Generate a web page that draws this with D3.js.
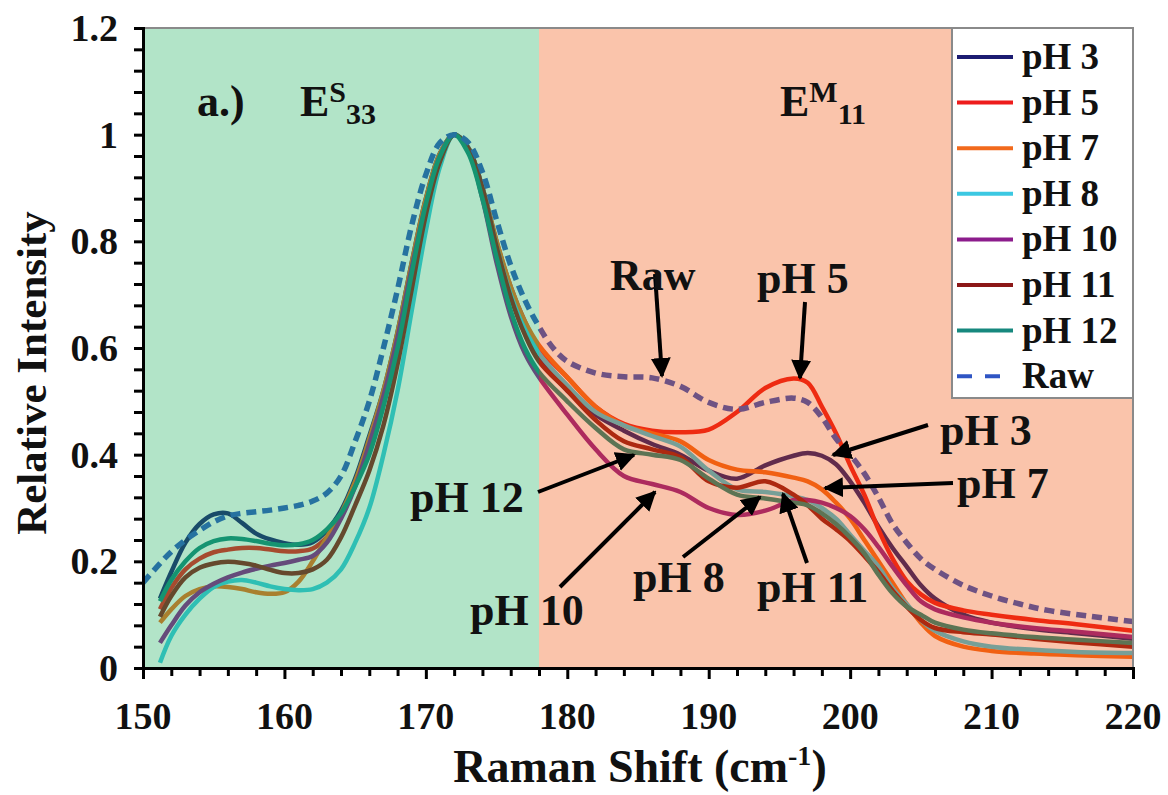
<!DOCTYPE html>
<html><head><meta charset="utf-8">
<script src="https://cdn.jsdelivr.net/npm/d3@7"></script>
<style>
html,body{margin:0;padding:0;background:#fff;}
svg text{font-family:"Liberation Serif","Times New Roman",serif;font-weight:bold;fill:#111;}
</style></head>
<body>
<svg id="c" width="1168" height="795"></svg>
<script>
// ---------- data ----------
const shift = [151.2,152,153,154,155,156,157,158,159,160,161,162,163,164,165,166,167,168,169,170,171,172,173,174,175,176,177,178,
  180,182,184,186,188,190,192,194,196,197,198,199,200,201,202,203,204,205,206,208,210,213,216,220];
const pH3 = [0.13,0.18,0.235,0.27,0.288,0.29,0.272,0.252,0.241,0.234,0.231,0.236,0.258,0.295,0.355,0.435,0.52,0.63,0.76,0.88,0.965,1.0,0.975,0.895,0.79,0.70,0.635,0.585,
  0.52,0.475,0.445,0.42,0.40,0.37,0.355,0.38,0.398,0.403,0.398,0.382,0.35,0.31,0.265,0.225,0.19,0.155,0.13,0.10,0.085,0.073,0.065,0.055];
const pH5 = [0.11,0.15,0.185,0.205,0.217,0.222,0.225,0.225,0.222,0.219,0.219,0.224,0.245,0.285,0.345,0.425,0.515,0.625,0.755,0.875,0.96,1.0,0.975,0.9,0.8,0.715,0.65,0.6,
  0.545,0.49,0.458,0.445,0.442,0.447,0.48,0.525,0.543,0.535,0.49,0.44,0.38,0.325,0.26,0.205,0.163,0.138,0.122,0.108,0.1,0.09,0.082,0.07];
const pH7 = [0.085,0.11,0.135,0.148,0.153,0.152,0.148,0.142,0.139,0.142,0.162,0.2,0.245,0.29,0.35,0.43,0.52,0.63,0.76,0.88,0.965,1.0,0.975,0.9,0.8,0.715,0.65,0.605,
  0.545,0.49,0.455,0.44,0.425,0.39,0.372,0.367,0.357,0.35,0.335,0.31,0.28,0.24,0.2,0.16,0.12,0.085,0.06,0.04,0.032,0.027,0.024,0.021];
const pH8 = [0.01,0.06,0.1,0.13,0.152,0.162,0.165,0.16,0.153,0.148,0.146,0.148,0.16,0.185,0.235,0.3,0.4,0.52,0.67,0.82,0.94,1.0,0.975,0.9,0.79,0.7,0.635,0.59,
  0.53,0.48,0.455,0.435,0.415,0.37,0.335,0.33,0.322,0.315,0.3,0.28,0.25,0.22,0.19,0.15,0.12,0.09,0.07,0.05,0.04,0.034,0.03,0.028];
const pH10 = [0.047,0.08,0.117,0.142,0.158,0.17,0.179,0.186,0.192,0.197,0.203,0.21,0.235,0.28,0.34,0.42,0.51,0.62,0.75,0.87,0.96,1.0,0.97,0.88,0.76,0.66,0.59,0.545,
  0.475,0.41,0.36,0.345,0.33,0.3,0.287,0.295,0.315,0.315,0.31,0.3,0.285,0.26,0.227,0.19,0.155,0.125,0.11,0.095,0.085,0.075,0.068,0.058];
const pH11 = [0.096,0.135,0.17,0.188,0.196,0.199,0.197,0.192,0.184,0.178,0.178,0.185,0.203,0.245,0.305,0.37,0.455,0.57,0.71,0.85,0.95,1.0,0.975,0.9,0.79,0.695,0.625,0.575,
  0.52,0.465,0.425,0.41,0.395,0.35,0.338,0.35,0.325,0.305,0.28,0.26,0.238,0.21,0.18,0.145,0.115,0.09,0.075,0.067,0.063,0.055,0.048,0.04];
const pH12 = [0.125,0.165,0.2,0.225,0.238,0.243,0.242,0.238,0.233,0.23,0.232,0.24,0.26,0.29,0.34,0.4,0.49,0.6,0.74,0.87,0.96,1.0,0.965,0.88,0.77,0.67,0.6,0.555,
  0.5,0.45,0.41,0.4,0.39,0.355,0.325,0.318,0.31,0.305,0.29,0.27,0.245,0.215,0.175,0.14,0.115,0.1,0.085,0.072,0.065,0.058,0.053,0.047];
const rawShift = [150,151,152,153,154,155,156,157,158,159,160,161,162,163,164,165,166,167,168,169,170,171,172,173,174,175,176,177,178,179,
  180,182,184,186,188,190,192,194,196,197,198,199,200,201,202,203,204,205,206,208,210,212,214,217,220];
const raw = [0.16,0.19,0.218,0.24,0.258,0.274,0.285,0.29,0.293,0.296,0.3,0.305,0.313,0.328,0.36,0.425,0.5,0.6,0.71,0.83,0.925,0.985,1.0,0.985,0.93,0.84,0.755,0.69,0.64,0.6,
  0.575,0.553,0.546,0.544,0.528,0.498,0.485,0.498,0.506,0.498,0.47,0.43,0.4,0.365,0.32,0.27,0.235,0.205,0.185,0.155,0.135,0.12,0.108,0.097,0.087];

const seriesNames = ["pH 3","pH 5","pH 7","pH 8","pH 10","pH 11","pH 12","Raw"];
const seriesColors = ["#1c1c72","#ee1c1c","#f26a1c","#3cc8e2","#8c1c8c","#8c1818","#16887e","#2f55c4"];
const xTicks = [150,160,170,180,190,200,210,220];
const yTicks = [0,0.2,0.4,0.6,0.8,1,1.2];
const regions = [{from:150,to:178,color:"#16ad58"},{from:178,to:220,color:"#f04c00"}];

// ---------- layout ----------
const svg = d3.select("#c");
const L=143, R=1133, T=28, B=668;
const x = d3.scaleLinear().domain([150,220]).range([L,R]);
const y = d3.scaleLinear().domain([0,1.2]).range([B,T]);

const allY = [pH3,pH5,pH7,pH8,pH10,pH11,pH12];
const series = allY.map((vals,i)=>({name:seriesNames[i],color:seriesColors[i],pts:shift.map((s,j)=>[s,vals[j]]),dash:null}));
series.push({name:"Raw",color:seriesColors[7],pts:rawShift.map((s,j)=>[s,raw[j]]),dash:"10,6"});

svg.append("defs").append("clipPath").attr("id","clip")
  .append("rect").attr("x",L).attr("y",T).attr("width",R-L).attr("height",B-T);

const line = d3.line().x(d=>x(d[0])).y(d=>y(d[1])).curve(d3.curveCatmullRom.alpha(0.5));
const g = svg.append("g").attr("clip-path","url(#clip)");
g.selectAll("path.s").data(series).join("path")
  .attr("class","s").attr("d",d=>line(d.pts)).attr("fill","none")
  .attr("stroke",d=>d.color).attr("stroke-width",d=>d.dash?5.5:4.5)
  .attr("stroke-dasharray",d=>d.dash).attr("stroke-linejoin","round");

// translucent shaded regions (drawn over the lines)
svg.selectAll("rect.reg").data(regions).join("rect").attr("class","reg")
  .attr("x",d=>x(d.from)).attr("y",T).attr("width",d=>x(d.to)-x(d.from)).attr("height",B-T)
  .attr("fill",d=>d.color).attr("fill-opacity",0.33);

// frame top/right
svg.append("path").attr("d",`M${L},${T}H${R}V${B}`).attr("fill","none").attr("stroke","#8a8a8a").attr("stroke-width",2);

// axes
const xAx = d3.axisBottom(x).tickValues(d3.range(150,221,2)).tickSize(9).tickFormat("");
const gx = svg.append("g").attr("transform",`translate(0,${B})`).call(xAx);
const yAx = d3.axisLeft(y).tickValues(d3.range(0,1.2001,0.04)).tickSize(9).tickFormat("");
const gy = svg.append("g").attr("transform",`translate(${L},0)`).call(yAx);
[gx,gy].forEach(a=>{a.select(".domain").attr("stroke","#000").attr("stroke-width",3);
  a.selectAll(".tick line").attr("stroke","#000").attr("stroke-width",3);});
gx.selectAll(".tick line").attr("y2",(d)=> (d%10===0)?11:8);

svg.selectAll("text.xt").data(xTicks).join("text").attr("class","xt")
  .attr("x",d=>x(d)).attr("y",729).attr("text-anchor","middle").attr("font-size",38).text(d=>d);
svg.selectAll("text.yt").data(yTicks).join("text").attr("class","yt")
  .attr("x",118).attr("y",d=>y(d)+13).attr("text-anchor","end").attr("font-size",38).text(d=>d);

// axis titles
const xt = svg.append("text").attr("x",640).attr("y",782).attr("text-anchor","middle").attr("font-size",46);
xt.append("tspan").text("Raman Shift (cm");
xt.append("tspan").attr("font-size",28).attr("dy",-17).text("-1");
xt.append("tspan").attr("dy",17).text(")");
svg.append("text").attr("transform","translate(46,373) rotate(-90)").attr("text-anchor","middle")
  .attr("font-size",43).text("Relative Intensity");

// region labels
svg.append("text").attr("x",197).attr("y",116).attr("font-size",44).text("a.)");
const e1 = svg.append("text").attr("x",300).attr("y",116).attr("font-size",44);
e1.append("tspan").text("E");
e1.append("tspan").attr("font-size",30).attr("dy",-14).text("S");
e1.append("tspan").attr("font-size",30).attr("dy",22).text("33");
const e2 = svg.append("text").attr("x",780).attr("y",116).attr("font-size",44);
e2.append("tspan").text("E");
e2.append("tspan").attr("font-size",30).attr("dy",-14).text("M");
e2.append("tspan").attr("font-size",30).attr("dy",22).text("11");

// annotations with arrows
const annotations = [
  {t:"Raw",tx:610,ty:290,x1:655,y1:274,x2:662,y2:376},
  {t:"pH 5",tx:757,ty:293,x1:805,y1:302,x2:800,y2:378},
  {t:"pH 3",tx:940,ty:445,x1:928,y1:425,x2:833,y2:455},
  {t:"pH 7",tx:957,ty:498,x1:953,y1:483,x2:825,y2:488},
  {t:"pH 12",tx:410,ty:512,x1:538,y1:492,x2:634,y2:455},
  {t:"pH 10",tx:470,ty:625,x1:560,y1:587,x2:655,y2:492},
  {t:"pH 8",tx:633,ty:592,x1:683,y1:557,x2:760,y2:497},
  {t:"pH 11",tx:757,ty:602,x1:807,y1:563,x2:783,y2:494}
];
svg.append("defs").append("marker").attr("id","ah").attr("viewBox","0 0 10 10")
  .attr("refX",9).attr("refY",5).attr("markerWidth",5).attr("markerHeight",5)
  .attr("markerUnits","strokeWidth").attr("orient","auto")
  .append("path").attr("d","M0,0L10,5L0,10z").attr("fill","#000");
svg.selectAll("line.ar").data(annotations).join("line").attr("class","ar")
  .attr("x1",d=>d.x1).attr("y1",d=>d.y1).attr("x2",d=>d.x2).attr("y2",d=>d.y2)
  .attr("stroke","#000").attr("stroke-width",4).attr("marker-end","url(#ah)");
svg.selectAll("text.an").data(annotations).join("text").attr("class","an")
  .attr("x",d=>d.tx).attr("y",d=>d.ty).attr("font-size",44).text(d=>d.t);

// legend
const lg = svg.append("g");
lg.append("rect").attr("x",952).attr("y",T).attr("width",R-952).attr("height",370)
  .attr("fill","#fff").attr("stroke","#8a8a8a").attr("stroke-width",2);
const li = lg.selectAll("g.li").data(series).join("g").attr("class","li")
  .attr("transform",(d,i)=>`translate(0,${57+i*45.6})`);
li.append("line").attr("x1",957).attr("x2",1013).attr("y1",0).attr("y2",0)
  .attr("stroke",d=>d.color).attr("stroke-width",4).attr("stroke-dasharray",d=>d.dash?"15,13":null);
li.append("text").attr("x",1022).attr("y",12).attr("font-size",37).text(d=>d.name);
</script>
</body></html>
